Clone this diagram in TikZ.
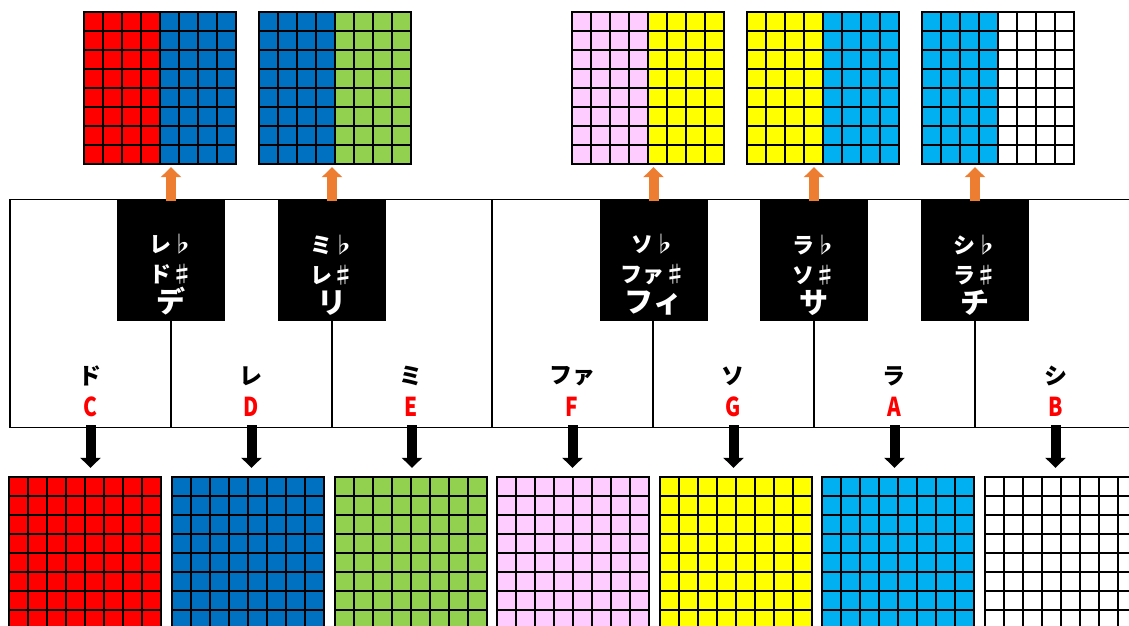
\documentclass[tikz,border=0pt]{standalone}
\usepackage{fontspec}
\usepackage{xcolor}
\usepackage{tikz}
\usetikzlibrary{arrows.meta}
\newfontfamily\jpfont{Noto Sans CJK JP}
\newfontfamily\notefont{Noto Sans CJK JP}[FakeStretch=0.8]
\definecolor{padred}{HTML}{FF0000}
\definecolor{padblue}{HTML}{0070C0}
\definecolor{padgreen}{HTML}{92D050}
\definecolor{padpink}{HTML}{FFCCFF}
\definecolor{padyellow}{HTML}{FFFF00}
\definecolor{padcyan}{HTML}{00B0F0}
\definecolor{accent}{HTML}{ED7D31}

% colour pad of 8x8 cells: name, left x, top y, left colour, right colour
\newcommand{\colourpad}[5]{%
  \fill[#4] (#2,#3) rectangle ++(76,152);
  \fill[#5] (#2+76,#3) rectangle ++(76,152);
  \foreach \k in {0,...,8} {
    \draw[cell] (#2+\k*19,#3) -- ++(0,152);
    \draw[cell] (#2,#3+\k*19) -- ++(152,0);
  }
  \node[pad] (#1) at (#2+76,#3+76) {};
}

\begin{document}
\begin{tikzpicture}[x=1pt, y=-1pt,
    whitekey/.style={draw, line width=1.4pt, minimum width=161pt, minimum height=228pt, inner sep=0pt},
    blackkey/.style={fill=black, minimum width=108pt, minimum height=121pt, inner sep=0pt},
    pad/.style={minimum size=152pt, inner sep=0pt},
    cell/.style={line width=1.6pt, line cap=rect},
    kana/.style={font=\jpfont\bfseries\fontsize{23}{23}\selectfont, inner sep=0pt},
    note/.style={font=\notefont\bfseries\fontsize{26}{26}\selectfont, text=padred, inner sep=0pt},
    keytext/.style={font=\jpfont\bfseries\fontsize{22}{30}\selectfont, text=white, align=center, inner sep=0pt},
    downarrow/.style={-{Triangle[width=20pt,length=10pt]}, line width=10pt, shorten <=-3pt, shorten >=9pt},
    uparrow/.style={accent, -{Triangle[width=20pt,length=10pt]}, line width=10pt, shorten <=-2pt, shorten >=3pt}]
  \useasboundingbox (0,0) rectangle (1129,625);
  \clip (0,0) rectangle (1129,625);

  % white keys
  \node[whitekey] (wC) at (90.5,313.5) {};
  \node[whitekey] (wD) at (251.5,313.5) {};
  \node[whitekey] (wE) at (412,313.5) {};
  \node[whitekey] (wF) at (572.5,313.5) {};
  \node[whitekey] (wG) at (733.5,313.5) {};
  \node[whitekey] (wA) at (894.5,313.5) {};
  \node[whitekey] (wB) at (1055.5,313.5) {};

  \node[kana] (kaC) at (90,376) {ド};
  \node[kana] (kaD) at (251,376) {レ};
  \node[kana] (kaE) at (411,376) {ミ};
  \node[kana] (kaF) at (572,376) {ファ};
  \node[kana] (kaG) at (733,376) {ソ};
  \node[kana] (kaA) at (894,376) {ラ};
  \node[kana] (kaB) at (1056,376) {シ};

  \node[note] (nC) at (90,407) {C};
  \node[note] (nD) at (251,407) {D};
  \node[note] (nE) at (411,407) {E};
  \node[note] (nF) at (572,407) {F};
  \node[note] (nG) at (733,407) {G};
  \node[note] (nA) at (894,407) {A};
  \node[note] (nB) at (1056,407) {B};

  % black keys
  \node[blackkey] (kCs) at (171,260) {};
  \node[blackkey] (kDs) at (332,260) {};
  \node[blackkey] (kFs) at (653.5,260) {};
  \node[blackkey] (kGs) at (814,260) {};
  \node[blackkey] (kAs) at (975,260) {};

  \node[keytext] (tCs) at (171,275) {レ♭\\ド♯\\{\fontsize{29}{29}\selectfont デ}};
  \node[keytext] (tDs) at (332,275) {ミ♭\\レ♯\\{\fontsize{29}{29}\selectfont リ}};
  \node[keytext] (tFs) at (653.5,275) {ソ♭\\ファ♯\\{\fontsize{29}{29}\selectfont フィ}};
  \node[keytext] (tGs) at (814,275) {ラ♭\\ソ♯\\{\fontsize{29}{29}\selectfont サ}};
  \node[keytext] (tAs) at (975,275) {シ♭\\ラ♯\\{\fontsize{29}{29}\selectfont チ}};

  % colour pads
  \colourpad{gCD}{84}{12}{padred}{padblue}
  \colourpad{gDE}{259}{12}{padblue}{padgreen}
  \colourpad{gFG}{572}{12}{padpink}{padyellow}
  \colourpad{gGA}{747}{12}{padyellow}{padcyan}
  \colourpad{gAB}{922}{12}{padcyan}{white}

  \colourpad{gC}{9}{477}{padred}{padred}
  \colourpad{gD}{172}{477}{padblue}{padblue}
  \colourpad{gE}{335}{477}{padgreen}{padgreen}
  \colourpad{gF}{497}{477}{padpink}{padpink}
  \colourpad{gG}{660}{477}{padyellow}{padyellow}
  \colourpad{gA}{822}{477}{padcyan}{padcyan}
  \colourpad{gB}{985}{477}{white}{white}

  \draw[uparrow] (kCs.north) -- (kCs.north |- gCD.south);
  \draw[uparrow] (kDs.north) -- (kDs.north |- gDE.south);
  \draw[uparrow] (kFs.north) -- (kFs.north |- gFG.south);
  \draw[uparrow] (kGs.north) -- (kGs.north |- gGA.south);
  \draw[uparrow] (kAs.north) -- (kAs.north |- gAB.south);

  \draw[downarrow] (wC.south) -- (wC.south |- gC.north);
  \draw[downarrow] (wD.south) -- (wD.south |- gD.north);
  \draw[downarrow] (wE.south) -- (wE.south |- gE.north);
  \draw[downarrow] (wF.south) -- (wF.south |- gF.north);
  \draw[downarrow] (wG.south) -- (wG.south |- gG.north);
  \draw[downarrow] (wA.south) -- (wA.south |- gA.north);
  \draw[downarrow] (wB.south) -- (wB.south |- gB.north);
\end{tikzpicture}
\end{document}
